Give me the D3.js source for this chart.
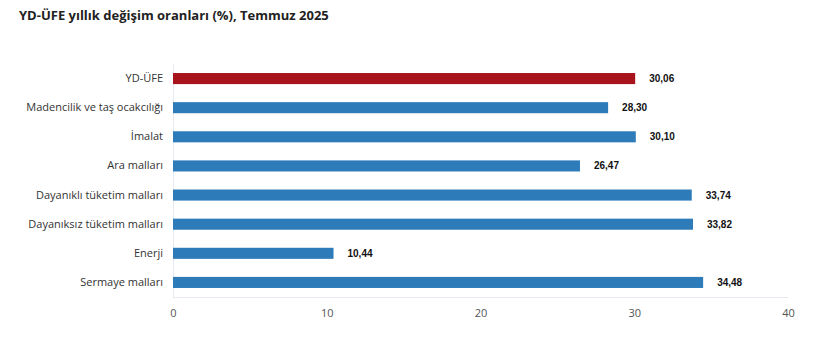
<!DOCTYPE html>
<html><head><meta charset="utf-8">
<script src="https://cdn.jsdelivr.net/npm/d3@7"></script>
<style>body{margin:0;background:#fff;}svg{display:block;}</style>
</head><body>
<svg id="c" width="815" height="355"></svg>
<script>
const categories = ["YD-ÜFE","Madencilik ve taş ocakcılığı","İmalat","Ara malları","Dayanıklı tüketim malları","Dayanıksız tüketim malları","Enerji","Sermaye malları"];
const values = [30.06,28.30,30.10,26.47,33.74,33.82,10.44,34.48];
const valueLabels = ["30,06","28,30","30,10","26,47","33,74","33,82","10,44","34,48"];
const xTicks = [0,10,20,30,40];
const title = "YD-ÜFE yıllık değişim oranları (%), Temmuz 2025";

(function(){
const svg = d3.select("#c");
const mLeft = 173, mRight = 788, mTop = 64, mBottom = 297;
const x = d3.scaleLinear().domain([0,40]).range([mLeft,mRight]);
const y = d3.scaleBand().domain(categories).range([mTop,mBottom]).paddingInner(0.62).paddingOuter(0.31);

svg.append("text").attr("x",19).attr("y",20).text(title)
  .attr("font-family","'Open Sans', 'Noto Sans', sans-serif").attr("font-weight","bold")
  .attr("font-size",13).attr("fill","#222");

svg.append("line").attr("x1",mLeft+0.5).attr("x2",mLeft+0.5).attr("y1",mTop).attr("y2",mBottom)
  .attr("stroke","#e6e9ef");
svg.append("line").attr("x1",mLeft).attr("x2",mRight).attr("y1",mBottom+0.5).attr("y2",mBottom+0.5)
  .attr("stroke","#e6e9ef");

const xAxis = svg.append("g").attr("transform",`translate(0,${mBottom})`)
  .call(d3.axisBottom(x).tickValues(xTicks).tickSize(0).tickPadding(12).tickFormat(d3.format("d")));
xAxis.select(".domain").remove();
xAxis.selectAll("text").attr("font-family","'Open Sans', 'Noto Sans', sans-serif").attr("font-size",11).attr("fill","#555");

const yAxis = svg.append("g").attr("transform",`translate(${mLeft},0)`)
  .call(d3.axisLeft(y).tickSize(0).tickPadding(10));
yAxis.select(".domain").remove();
yAxis.selectAll("text").attr("font-family","'Open Sans', 'Noto Sans', sans-serif").attr("font-size",11).attr("fill","#333");

svg.selectAll("rect.bar").data(values).join("rect").attr("class","bar")
  .attr("x",x(0)).attr("y",(d,i)=>y(categories[i]))
  .attr("width",d=>x(d)-x(0)).attr("height",y.bandwidth())
  .attr("fill",(d,i)=>i===0?"#a8141b":"#2e7bb9");

svg.selectAll("text.val").data(values).join("text").attr("class","val")
  .attr("x",d=>x(d)+14).attr("y",(d,i)=>y(categories[i])+y.bandwidth()/2)
  .attr("dy","0.35em").text((d,i)=>valueLabels[i])
  .attr("font-family","'Liberation Sans', Arial, sans-serif").attr("font-weight","bold")
  .attr("font-size",10).attr("fill","#111");
})();
</script>
</body></html>
